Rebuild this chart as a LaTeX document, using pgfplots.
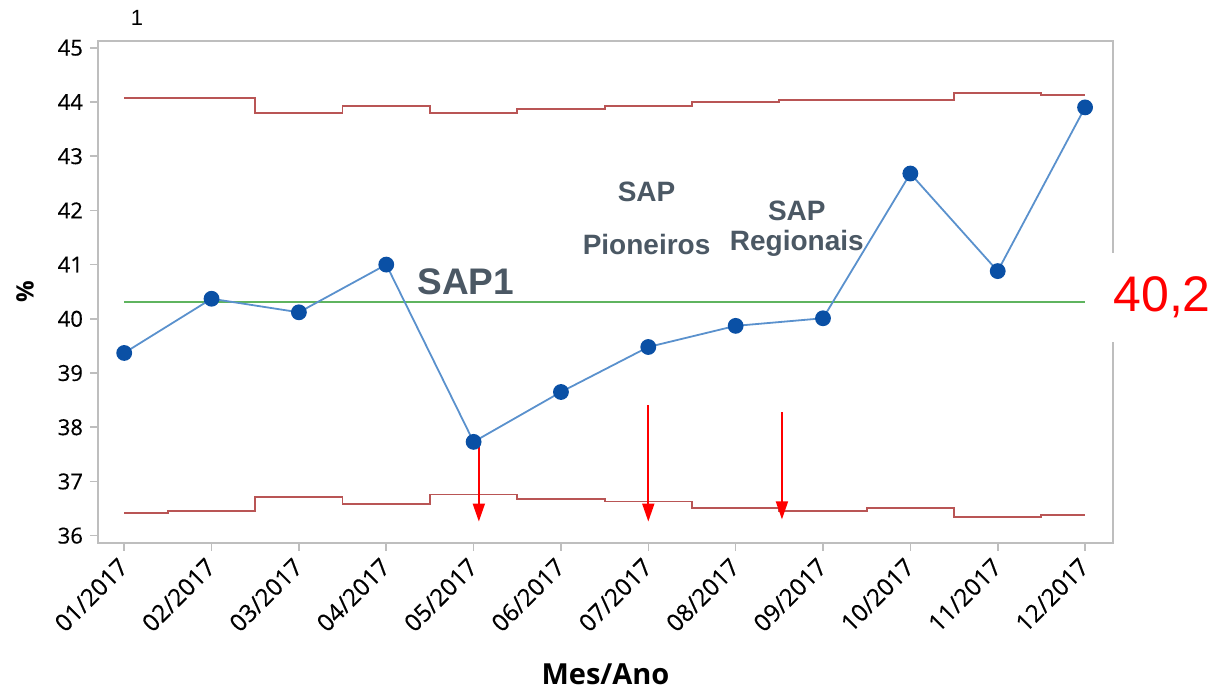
\documentclass[border=0pt]{standalone}
\usepackage{pgfplots}
\pgfplotsset{compat=1.18}
\usepackage{fontspec}
\setmainfont{Open Sans}
\newfontfamily\arialfont{Liberation Sans}
\newfontfamily\tickfont[FakeBold=0.4]{Open Sans}
\usetikzlibrary{arrows.meta}

\definecolor{axisgray}{RGB}{190,190,190}
\definecolor{datablue}{RGB}{90,145,205}
\definecolor{markblue}{RGB}{10,80,165}
\definecolor{limitred}{RGB}{185,85,85}
\definecolor{centergreen}{RGB}{95,180,95}
\definecolor{labelgray}{RGB}{75,88,100}

\begin{document}
\begin{tikzpicture}[x=1pt,y=1pt]
\useasboundingbox (-49,-74.5) rectangle (563,271.35);
\begin{axis}[
    at={(0,0)}, anchor=south west,
    scale only axis, width=507.5pt, height=251pt,
    xmin=-0.30, xmax=11.32, ymin=35.87, ymax=45.13,
    xtick={0,...,11},
    xticklabels={01/2017,02/2017,03/2017,04/2017,05/2017,06/2017,07/2017,08/2017,09/2017,10/2017,11/2017,12/2017},
    ytick={36,...,45},
    tick align=outside, tick pos=left,
    major tick length=4pt,
    axis line style={draw=axisgray, line width=1pt},
    tick style={draw=axisgray, line width=0.8pt},
    /pgf/number format/assume math mode=true,
    yticklabel style={font=\tickfont\fontsize{11}{13}\selectfont},
    xticklabel style={font=\tickfont\fontsize{12}{14}\selectfont, rotate=45, anchor=east, xshift=-1pt, yshift=-4pt},
    xlabel={Mes/Ano},
    xlabel style={at={(axis description cs:0.5,0)}, anchor=center, yshift=-66pt, font=\fontsize{14.5}{16}\selectfont\bfseries},
    ylabel={\%},
    ylabel style={at={(axis description cs:0,0.5)}, anchor=center, yshift=36.5pt, font=\fontsize{12}{14}\selectfont\bfseries},
    clip=false,
]
% upper control limit
\addplot[const plot mark mid, limitred, line width=0.9pt] coordinates {
 (0,44.08) (1,44.08) (2,43.79) (3,43.92) (4,43.79) (5,43.87)
 (6,43.93) (7,44.00) (8,44.04) (9,44.04) (10,44.17) (11,44.13)};
% lower control limit
\addplot[const plot mark mid, limitred, line width=0.9pt] coordinates {
 (0,36.42) (1,36.46) (2,36.72) (3,36.58) (4,36.76) (5,36.68)
 (6,36.63) (7,36.51) (8,36.46) (9,36.51) (10,36.34) (11,36.38)};
% center line
\addplot[centergreen, line width=0.9pt] coordinates {(0,40.31) (11,40.31)};
% data
\addplot[datablue, line width=0.9pt, mark=*, mark size=3.5pt,
  mark options={fill=markblue, draw=markblue}] coordinates {
 (0,39.37) (1,40.37) (2,40.12) (3,41.00) (4,37.73) (5,38.65)
 (6,39.48) (7,39.87) (8,40.01) (9,42.68) (10,40.88) (11,43.90)};

% arrows
\draw[red, line width=0.9pt, -{Triangle[width=6pt,length=9pt]}] (axis cs:4.06,37.72) -- (axis cs:4.06,36.26);
\draw[red, line width=0.9pt, -{Triangle[width=6pt,length=9pt]}] (axis cs:6.00,38.41) -- (axis cs:6.00,36.26);
\draw[red, line width=0.9pt, -{Triangle[width=6pt,length=9pt]}] (axis cs:7.53,38.28) -- (axis cs:7.53,36.30);

% labels
\node[labelgray, font=\arialfont\fontsize{18.5}{20}\selectfont\bfseries] at (axis cs:3.91,40.68) {SAP1};
\node[labelgray, font=\arialfont\fontsize{14}{16}\selectfont\bfseries] at (axis cs:5.98,42.34) {SAP};
\node[labelgray, font=\arialfont\fontsize{14}{16}\selectfont\bfseries] at (axis cs:5.98,41.37) {Pioneiros};
\node[labelgray, font=\arialfont\fontsize{14}{16}\selectfont\bfseries] at (axis cs:7.70,42.00) {SAP};
\node[labelgray, font=\arialfont\fontsize{14}{16}\selectfont\bfseries] at (axis cs:7.70,41.40) {Regionais};

\coordinate (cl) at (axis cs:11.32,40.39);
\coordinate (one) at (axis description cs:0.0384,1);
\end{axis}
\node[fill=white, text=red, anchor=west, minimum height=44.5pt, inner xsep=3pt,
  font=\arialfont\fontsize{25}{27}\selectfont, xshift=-3pt] at (cl) {40,2};
\node[font=\arialfont\fontsize{11}{13}\selectfont, yshift=11.35pt] at (one) {1};
\end{tikzpicture}
\end{document}
